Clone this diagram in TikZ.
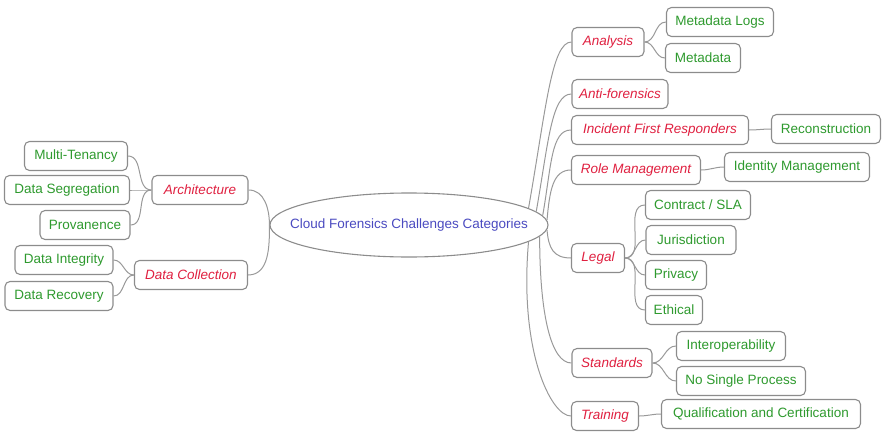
\documentclass[tikz,border=0pt]{standalone}
\usepackage{fontspec}
\setmainfont{Liberation Sans}
\usetikzlibrary{shapes.geometric}
\definecolor{catred}{HTML}{E02040}
\definecolor{leafgreen}{HTML}{2E9A2E}
\definecolor{centblue}{HTML}{4A4AC0}
\definecolor{boxgray}{HTML}{8C8C8C}
\definecolor{linegray}{HTML}{999999}
\begin{document}
\begin{tikzpicture}[x=1pt,y=-1pt,
  base/.style={draw=boxgray,line width=1.1pt,rounded corners=5pt,fill=white,inner sep=0pt,
    font=\fontsize{13.5}{15}\selectfont,minimum height=29pt},
  cat/.style={base,text=catred,font=\fontsize{13.5}{15}\selectfont\itshape},
  leaf/.style={base,text=leafgreen},
  conn/.style={draw=linegray,line width=1pt}]
\useasboundingbox (0,0) rectangle (883,431);
% centre
\node[ellipse,draw=boxgray,line width=1.1pt,minimum width=278pt,minimum height=64pt,
  inner xsep=-25pt,inner ysep=0pt,
  text=centblue,font=\fontsize{13.5}{15}\selectfont] (ell) at (409,225) {Cloud Forensics Challenges Categories};
% left categories
\node[cat,minimum width=96pt] (arch) at (200,190) {Architecture};
\node[cat,minimum width=113pt] (dc) at (191,275) {Data Collection};
\node[leaf,minimum width=103pt] (mt) at (76,156) {Multi-Tenancy};
\node[leaf,minimum width=125pt] (ds) at (67,190) {Data Segregation};
\node[leaf,minimum width=90pt] (prov) at (85,225) {Provanence};
\node[leaf,minimum width=98pt] (di) at (64,260) {Data Integrity};
\node[leaf,minimum width=108pt] (dr) at (59,296) {Data Recovery};
% right categories
\node[cat,minimum width=72pt] (ana) at (608,42) {Analysis};
\node[leaf,minimum width=107pt] (ml) at (720,22) {Metadata Logs};
\node[leaf,minimum width=75pt] (md) at (703,58) {Metadata};
\node[cat,minimum width=96pt] (af) at (620,94) {Anti-forensics};
\node[cat,minimum width=177pt] (ifr) at (660,130) {Incident First Responders};
\node[leaf,minimum width=109pt] (rec) at (826,129) {Reconstruction};
\node[cat,minimum width=129pt] (rm) at (636,170) {Role Management};
\node[leaf,minimum width=145pt] (im) at (797,167) {Identity Management};
\node[cat,minimum width=53pt] (leg) at (598,258) {Legal};
\node[leaf,minimum width=105pt] (csla) at (698,205) {Contract / SLA};
\node[leaf,minimum width=90pt] (jur) at (691,240) {Jurisdiction};
\node[leaf,minimum width=61pt] (priv) at (676,275) {Privacy};
\node[leaf,minimum width=57pt] (eth) at (674,310) {Ethical};
\node[cat,minimum width=80pt] (std) at (612,363) {Standards};
\node[leaf,minimum width=109pt] (inter) at (731,346) {Interoperability};
\node[leaf,minimum width=129pt] (nsp) at (741,381) {No Single Process};
\node[cat,minimum width=67pt] (tr) at (605,416) {Training};
\node[leaf,minimum width=199pt] (qc) at (761,414) {Qualification and Certification};
% connectors
\path[conn] (ell.west) to[out=90,in=0] (arch.east);
\path[conn] (ell.west) to[out=-90,in=0] (dc.east);
\foreach \c in {mt,ds,prov} \path[conn] (arch.west) to[out=180,in=0] (\c.east);
\foreach \c in {di,dr} \path[conn] (dc.west) to[out=180,in=0] (\c.east);
\path[conn] (ell.8) to[out=80,in=180,out distance=100pt,in distance=20pt] (ana.west);
\path[conn] (ell.6) to[out=80,in=180,out distance=70pt,in distance=20pt] (af.west);
\path[conn] (ell.4) to[out=80,in=180,out distance=50pt,in distance=20pt] (ifr.west);
\path[conn] (ell.2) to[out=85,in=180,out distance=30pt,in distance=18pt] (rm.west);
\path[conn] (ell.-2) to[out=-85,in=180,out distance=18pt,in distance=18pt] (leg.west);
\path[conn] (ell.-5) to[out=-90,in=180,out distance=80pt,in distance=20pt] (std.west);
\path[conn] (ell.-8) to[out=-95,in=180,out distance=110pt,in distance=20pt] (tr.west);
\foreach \c in {ml,md} \path[conn] (ana.east) to[out=0,in=180] (\c.west);
\path[conn] (ifr.east) to[out=0,in=180] (rec.west);
\path[conn] (rm.east) to[out=0,in=180] (im.west);
\foreach \c in {csla,jur,priv,eth} \path[conn] (leg.east) to[out=0,in=180] (\c.west);
\foreach \c in {inter,nsp} \path[conn] (std.east) to[out=0,in=180] (\c.west);
\path[conn] (tr.east) to[out=0,in=180] (qc.west);
\end{tikzpicture}
\end{document}
